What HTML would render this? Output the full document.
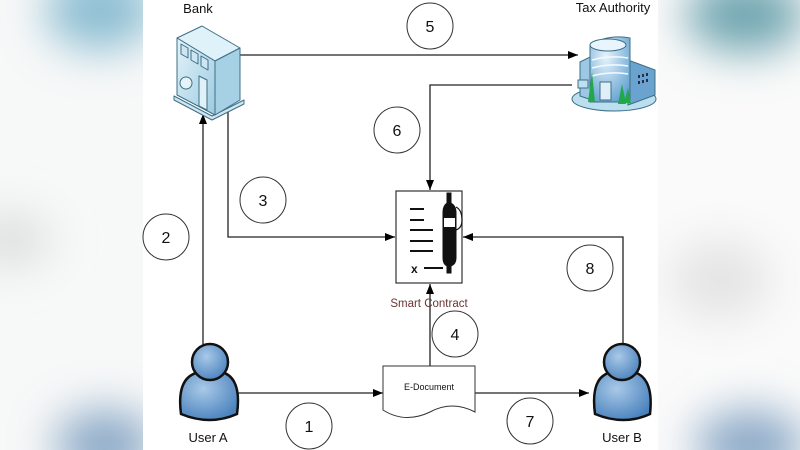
<!DOCTYPE html>
<html><head><meta charset="utf-8"><style>
html,body{margin:0;padding:0;width:800px;height:450px;overflow:hidden;background:#fff}
svg{display:block;position:absolute;left:0;top:0}
text{font-family:"Liberation Sans",sans-serif}
</style></head><body>
<svg width="800" height="450" viewBox="0 0 800 450" xmlns="http://www.w3.org/2000/svg">
<defs>
<filter id="bl" x="-50%" y="-50%" width="200%" height="200%"><feGaussianBlur stdDeviation="22"/></filter>
<linearGradient id="bk" x1="0" y1="0" x2="1" y2="1"><stop offset="0" stop-color="#e3f3fa"/><stop offset="1" stop-color="#9ccbe0"/></linearGradient>
<radialGradient id="pp" cx="0.4" cy="0.35" r="0.7"><stop offset="0" stop-color="#a9c9e8"/><stop offset="1" stop-color="#4a82bd"/></radialGradient>
<radialGradient id="tx" cx="0.4" cy="0.3" r="0.8"><stop offset="0" stop-color="#e6f3fb"/><stop offset="1" stop-color="#5d9fcf"/></radialGradient>
<marker id="ar" markerWidth="10" markerHeight="8" refX="10" refY="4" orient="auto" markerUnits="userSpaceOnUse"><path d="M0,0 L10,4 L0,8 Z" fill="#000"/></marker>
<clipPath id="cl"><rect x="0" y="0" width="143" height="450"/></clipPath>
<clipPath id="cr"><rect x="658" y="0" width="142" height="450"/></clipPath>
</defs>
<rect width="800" height="450" fill="#fff"/>
<g clip-path="url(#cl)">
<rect x="0" y="0" width="143" height="450" fill="#f7f8f8"/>
<g filter="url(#bl)">
<ellipse cx="100" cy="10" rx="55" ry="40" fill="#8bbdd2"/>
<ellipse cx="105" cy="445" rx="50" ry="35" fill="#8aa8c6"/>
<ellipse cx="10" cy="240" rx="40" ry="25" fill="#dcdcdc"/>
</g></g>
<g clip-path="url(#cr)">
<rect x="658" y="0" width="142" height="450" fill="#fafafa"/>
<g filter="url(#bl)">
<ellipse cx="745" cy="15" rx="60" ry="38" fill="#6fa5b0"/>
<ellipse cx="750" cy="445" rx="55" ry="35" fill="#8aa8c6"/>
<ellipse cx="720" cy="280" rx="50" ry="40" fill="#e4e4e4"/>
</g></g>
<g stroke="#222" stroke-width="1.3" fill="none">
<line x1="240" y1="55" x2="578" y2="55" marker-end="url(#ar)"/>
<polyline points="572,85 430,85 430,190" marker-end="url(#ar)"/>
<polyline points="228,112 228,237 395,237" marker-end="url(#ar)"/>
<line x1="203" y1="345" x2="203" y2="114" marker-end="url(#ar)"/>
<line x1="238" y1="393" x2="383" y2="393" marker-end="url(#ar)"/>
<line x1="430" y1="366" x2="430" y2="284" marker-end="url(#ar)"/>
<line x1="475" y1="393" x2="589" y2="393" marker-end="url(#ar)"/>
<polyline points="623,345 623,237 463,237" marker-end="url(#ar)"/>
</g>
<g stroke="#333" stroke-width="1" fill="#fff">
<circle cx="430" cy="26" r="23"/><circle cx="397" cy="130" r="23"/>
<circle cx="263" cy="200" r="23"/><circle cx="166" cy="237" r="23"/>
<circle cx="590" cy="268" r="23"/><circle cx="455" cy="334" r="23"/>
<circle cx="309" cy="426" r="23"/><circle cx="530" cy="421" r="23"/>
</g>
<g font-size="16" text-anchor="middle" fill="#111">
<text x="430" y="32">5</text><text x="397" y="136">6</text>
<text x="263" y="206">3</text><text x="166" y="243">2</text>
<text x="590" y="274">8</text><text x="455" y="340">4</text>
<text x="309" y="432">1</text><text x="530" y="427">7</text>
</g>
<g font-size="13" fill="#111" text-anchor="middle">
<text x="198" y="13">Bank</text>
<text x="613" y="12">Tax Authority</text>
<text x="208" y="442">User A</text>
<text x="622" y="442">User B</text>
</g>
<text x="429" y="307" font-size="11.5" fill="#6b3535" text-anchor="middle">Smart Contract</text>
<!-- bank icon -->
<g stroke="#3d6f86" stroke-width="1" stroke-linejoin="round">
<path d="M174,96 L212,116 L244,100 L244,104 L212,120 L174,100 Z" fill="#cfe6f0"/>
<path d="M177,38 L202,26 L240,48 L215,61 Z" fill="#dff1f9"/>
<path d="M177,38 L215,61 L215,115 L177,95 Z" fill="url(#bk)"/>
<path d="M215,61 L240,48 L240,100 L215,115 Z" fill="#a6d0e3"/>
<path d="M181,44 L188,48 L188,58 L181,54 Z" fill="#cde6f2"/>
<path d="M191,50 L198,54 L198,64 L191,60 Z" fill="#cde6f2"/>
<path d="M201,56 L208,60 L208,70 L201,66 Z" fill="#cde6f2"/>
<circle cx="186" cy="83" r="6" fill="#e6f4fa"/>
<path d="M199,76 L207,80 L207,110 L199,106 Z" fill="#e0f1f8"/>
</g>
<!-- tax authority icon -->
<g stroke="#3d6f86" stroke-width="1">
<ellipse cx="614" cy="99" rx="42" ry="12" fill="#bcdff0"/>
<path d="M628,60 L655,70 L655,95 L628,105 Z" fill="#6aa3cf"/>
<path d="M580,62 L592,56 L592,100 L580,96 Z" fill="#9cc8e4"/>
<path d="M590,45 Q608,34 630,38 L630,102 L590,102 Z" fill="url(#tx)"/>
<ellipse cx="608" cy="45" rx="18" ry="6" fill="#e8f5fc"/>
<path d="M592,60 Q610,55 628,58 M592,68 Q610,63 628,66 M592,76 Q610,71 628,74" fill="none" stroke="#f2fafe" stroke-width="1.5"/>
<rect x="600" y="82" width="11" height="18" fill="#dfeff8"/>
<rect x="578" y="80" width="10" height="8" fill="#bfe0f0"/>
</g>
<g fill="#2c2c4a"><rect x="638" y="75" width="2" height="3"/><rect x="642" y="74" width="2" height="3"/><rect x="646" y="73" width="2" height="3"/><rect x="638" y="81" width="2" height="3"/><rect x="642" y="80" width="2" height="3"/><rect x="646" y="79" width="2" height="3"/></g>
<g fill="#22a84a"><path d="M588,102 L592,72 L595,102 Z"/><path d="M618,104 L622,84 L626,104 Z"/><path d="M624,103 L628,88 L631,103 Z"/></g>
<!-- smart contract -->
<rect x="396" y="191" width="66" height="92" fill="#fff" stroke="#333" stroke-width="1.2"/>
<g stroke="#111" stroke-width="2">
<line x1="410" y1="209" x2="424" y2="209"/><line x1="410" y1="220" x2="424" y2="220"/>
<line x1="410" y1="230" x2="433" y2="230"/><line x1="410" y1="241" x2="433" y2="241"/>
<line x1="410" y1="251" x2="433" y2="251"/><line x1="424" y1="268" x2="443" y2="268"/>
</g>
<text x="411" y="273" font-size="12" font-weight="bold" fill="#111">x</text>
<path d="M447,193 L451,193 L451,203 Q456,206 456,212 L456,258 Q456,264 451,266 L451,273 L447,273 L447,266 Q443,264 443,258 L443,212 Q443,206 447,203 Z" fill="#111" stroke="#111"/>
<rect x="444" y="218" width="11" height="9" fill="#fff"/>
<path d="M456,207 Q462,210 462,220 Q462,228 456,230" fill="none" stroke="#111" stroke-width="1.2"/>
<!-- e-document -->
<path d="M383,366 L475,366 L475,412 Q452,400 430,412 Q405,424 383,410 Z" fill="#fff" stroke="#333" stroke-width="1"/>
<text x="429" y="390" font-size="9" fill="#111" text-anchor="middle">E-Document</text>
<!-- users -->
<g stroke="#111" stroke-width="2.5" fill="url(#pp)">
<path d="M181,414 Q176,376 200,372 L222,372 Q242,378 237,414 Q210,426 181,414 Z"/>
<circle cx="210" cy="362" r="18"/>
<path d="M595,414 Q590,376 612,372 L634,372 Q654,378 650,414 Q624,426 595,414 Z"/>
<circle cx="622" cy="362" r="18"/>
</g>
</svg>
</body></html>
